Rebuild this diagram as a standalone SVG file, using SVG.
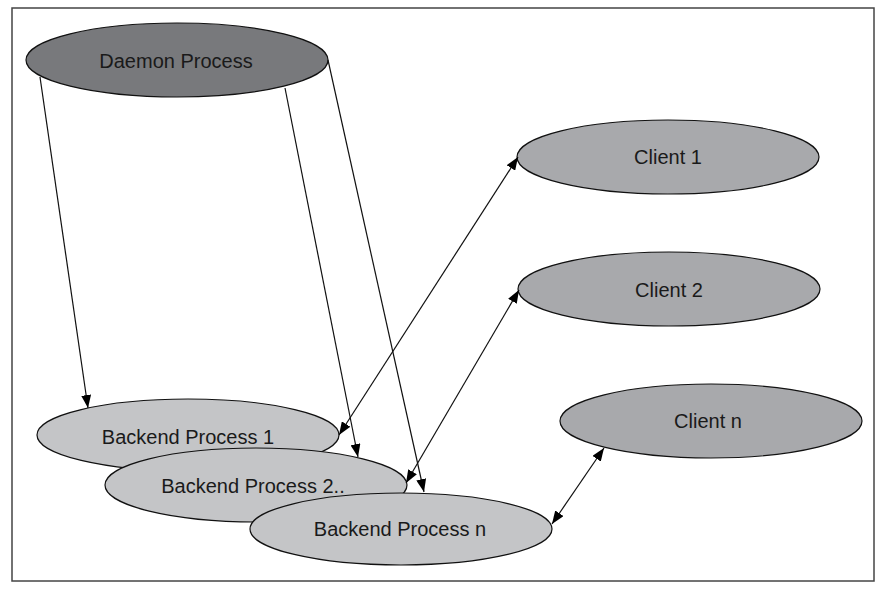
<svg xmlns="http://www.w3.org/2000/svg" width="882" height="590" viewBox="0 0 882 590">
<style>
.frame{fill:#fff;stroke:#444;stroke-width:1.5}
.node{stroke:#111;stroke-width:1.2}
.daemon{fill:#78797c}
.client{fill:#a8a9ac}
.backend{fill:#c4c5c7}
text{font-family:"Liberation Sans",Arial,sans-serif;font-size:20px;fill:#1a1a1a;text-anchor:middle;dominant-baseline:central}
.edge{stroke:#111;stroke-width:1.2;fill:none}
</style>
<defs>
<marker id="ah" viewBox="0 0 13 10" refX="13" refY="5" markerWidth="13" markerHeight="10" markerUnits="userSpaceOnUse" orient="auto-start-reverse">
<path d="M0,0 L13,5 L0,10 Z" fill="#000"/>
</marker>
</defs>
<rect class="frame" x="12" y="8" width="862" height="573"/>
<g id="daemon"><ellipse class="node daemon" cx="177" cy="60" rx="151" ry="37"/><text x="176" y="61">Daemon Process</text></g>
<g id="client1"><ellipse class="node client" cx="668" cy="157" rx="151" ry="37"/><text x="668" y="157">Client 1</text></g>
<g id="client2"><ellipse class="node client" cx="669" cy="289" rx="151" ry="37"/><text x="669" y="290">Client 2</text></g>
<g id="clientn"><ellipse class="node client" cx="711" cy="421" rx="151" ry="37"/><text x="708" y="421">Client n</text></g>
<g id="backend1"><ellipse class="node backend" cx="188" cy="435" rx="151" ry="36"/><text x="188" y="437">Backend Process 1</text></g>
<g id="backend2"><ellipse class="node backend" cx="256" cy="485" rx="151" ry="37"/><text x="253" y="486">Backend Process 2..</text></g>
<g id="backendn"><ellipse class="node backend" cx="401" cy="529" rx="151" ry="36"/><text x="400" y="529">Backend Process n</text></g>
<g id="connectors">
<line class="edge" x1="40" y1="77" x2="88" y2="408" marker-end="url(#ah)"/>
<line class="edge" x1="285" y1="88" x2="358" y2="457" marker-end="url(#ah)"/>
<line class="edge" x1="328" y1="60" x2="424" y2="492" marker-end="url(#ah)"/>
<line class="edge" x1="339" y1="435" x2="518" y2="157" marker-start="url(#ah)" marker-end="url(#ah)"/>
<line class="edge" x1="406" y1="483" x2="519" y2="290" marker-start="url(#ah)" marker-end="url(#ah)"/>
<line class="edge" x1="552" y1="524" x2="604" y2="448" marker-start="url(#ah)" marker-end="url(#ah)"/>
</g>
</svg>
